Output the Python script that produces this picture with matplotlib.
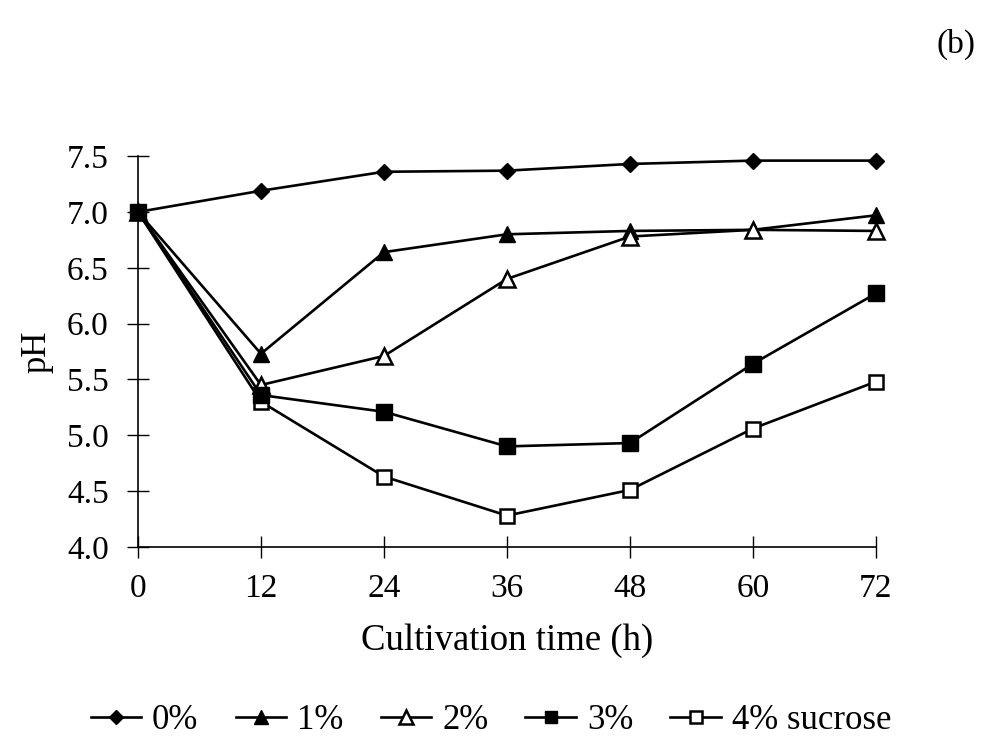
import matplotlib
matplotlib.use("Agg")
import matplotlib.pyplot as plt

plt.rcParams['font.family'] = ['Liberation Serif', 'DejaVu Serif']

# cultivation time (h) and pH per sucrose level
hours = [0, 12, 24, 36, 48, 60, 72]
ph_0 = [7.00, 7.19, 7.36, 7.37, 7.43, 7.46, 7.46]
ph_1 = [7.00, 5.73, 6.64, 6.80, 6.83, 6.84, 6.97]
ph_2 = [7.00, 5.45, 5.71, 6.40, 6.78, 6.84, 6.83]
ph_3 = [7.00, 5.36, 5.21, 4.90, 4.93, 5.64, 6.27]
ph_4 = [7.00, 5.30, 4.63, 4.28, 4.51, 5.06, 5.48]

labels = ['0%', '1%', '2%', '3%', '4% sucrose']
yticks = [4.0, 4.5, 5.0, 5.5, 6.0, 6.5, 7.0, 7.5]

fig = plt.figure(figsize=(9.82, 7.40), dpi=100)
ax = fig.add_axes([0.1405, 0.261, 0.7515, 0.528])

lw = 1.9
common = dict(color='black', lw=lw, clip_on=False)
ax.plot(hours, ph_0, marker='D', ms=8.5, mfc='black', mec='black', label=labels[0], **common)
ax.plot(hours, ph_1, marker='^', ms=12, mfc='black', mec='black', label=labels[1], **common)
ax.plot(hours, ph_2, marker='^', ms=12, mfc='white', mec='black', mew=1.8, label=labels[2], **common)
# filled squares sit on top where the curves share a point
ax.plot(hours, ph_3, marker='s', ms=11, mfc='black', mec='black', label=labels[3], zorder=3, **common)
ax.plot(hours, ph_4, marker='s', ms=10, mfc='white', mec='black', mew=1.8, label=labels[4], **common)

ax.set_xlim(0, 72)
ax.set_ylim(4.0, 7.5)
ax.set_xticks(hours)
ax.set_yticks(yticks)
ax.set_yticklabels([f'{v:.1f}' for v in yticks])

for s in ['top', 'right']:
    ax.spines[s].set_visible(False)
for s in ['left', 'bottom']:
    ax.spines[s].set_linewidth(1.2)

ax.tick_params(axis='both', direction='inout', length=16, width=1.0,
               labelsize=24, color='black')
ax.tick_params(axis='y', pad=13)
ax.tick_params(axis='x', pad=11)

ax.set_xlabel('Cultivation time (h)', fontsize=26.5, labelpad=14)
ax.set_ylabel('pH', fontsize=25, labelpad=10)

fig.text(0.993, 0.94, '(b)', fontsize=24, ha='right', va='center')

fig.legend(loc='center', bbox_to_anchor=(0.5, 0.026), ncol=5, frameon=False,
           fontsize=25, handlelength=1.45, handletextpad=0.32,
           columnspacing=1.07, markerscale=0.8)

fig.savefig('out.png', dpi=100)
